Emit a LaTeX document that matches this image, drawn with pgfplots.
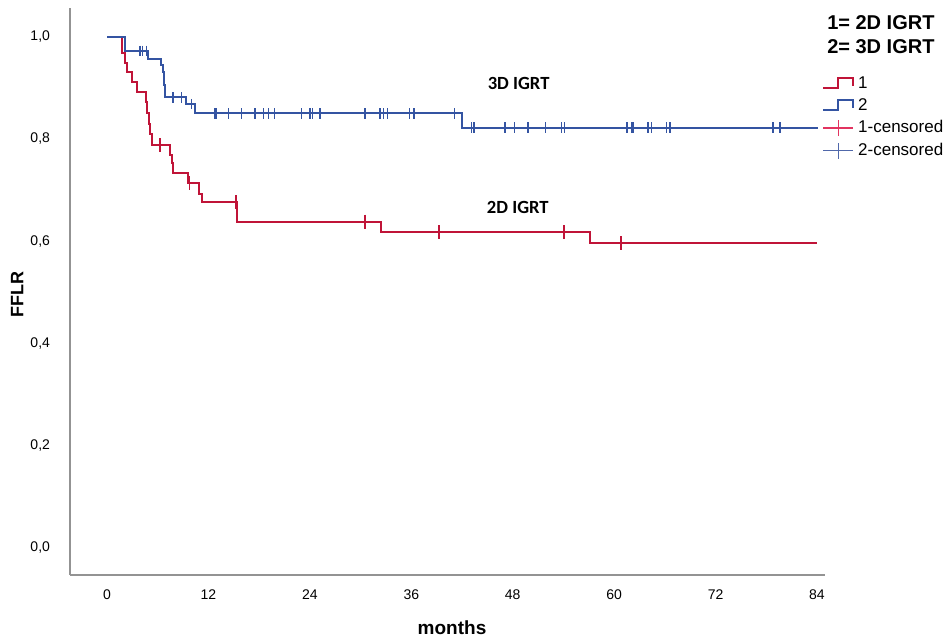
\documentclass[border=0pt]{standalone}
\usepackage{fontspec}
\setmainfont{Liberation Sans}
\newfontfamily\carlito{Carlito}
\usepackage{pgfplots}
\pgfplotsset{compat=1.18}
\definecolor{kmred}{RGB}{192,20,56}
\definecolor{kmblue}{RGB}{52,84,162}
\definecolor{legred}{RGB}{226,52,96}
\definecolor{legblue}{RGB}{80,104,170}
\begin{document}
\begin{tikzpicture}
\useasboundingbox (0,0) rectangle (472.5pt,320pt);
\begin{axis}[
  at={(35pt,32.5pt)}, anchor=south west,
  scale only axis, width=377.5pt, height=283.5pt,
  xmin=-4.38, xmax=84.95, ymin=-0.053, ymax=1.056,
  axis lines=left, axis line style={-, draw=gray!85, line width=0.7pt},
  major tick length=0pt,
  xtick={0,12,24,36,48,60,72,84},
  xticklabels={0,12,24,36,48,60,72,84},
  ytick={0,0.2,0.4,0.6,0.8,1.0},
  yticklabels={{0,0},{0,2},{0,4},{0,6},{0,8},{1,0}},
  /pgf/number format/assume math mode=true,
  ticklabel style={font=\fontsize{7}{8}\selectfont},
  yticklabel style={xshift=-6.5pt},
  xticklabel style={yshift=-3.7pt},
  xlabel={\textbf{months}},
  ylabel={\textbf{FFLR}},
  xlabel style={at={(axis description cs:0.506,-0.0935)}, anchor=center, font=\fontsize{9.5}{11}\selectfont},
  ylabel style={at={(axis description cs:-0.07,0.494)}, anchor=center, font=\fontsize{9}{11}\selectfont},
  clip=false,
  legend style={at={(rel axis cs:0.996,0.887)}, anchor=north west, draw=none, fill=none,
    font=\fontsize{8.5}{10}\selectfont, row sep=-0.4pt, inner sep=0pt,
    legend cell align=left},
]
% legend images
\addlegendimage{legend image code/.code={
  \draw[kmred, line width=0.9pt] (0pt,-2.2pt) -- (7.5pt,-2.2pt) -- (7.5pt,2.8pt) -- (15pt,2.8pt) -- (15pt,-1pt);}}
\addlegendentry{1}
\addlegendimage{legend image code/.code={
  \draw[kmblue, line width=0.9pt] (0pt,-2.2pt) -- (7.5pt,-2.2pt) -- (7.5pt,2.8pt) -- (15pt,2.8pt) -- (15pt,-1pt);}}
\addlegendentry{2}
\addlegendimage{legend image code/.code={
  \draw[legred, line width=0.8pt] (0pt,0pt) -- (15pt,0pt); \draw[legred, line width=0.8pt] (7.5pt,-4pt) -- (7.5pt,4pt);}}
\addlegendentry{1-censored}
\addlegendimage{legend image code/.code={
  \draw[legblue, line width=0.8pt] (0pt,0pt) -- (15pt,0pt); \draw[legblue, line width=0.8pt] (7.5pt,-4pt) -- (7.5pt,4pt);}}
\addlegendentry{2-censored}

% 2D IGRT (red)
\addplot[const plot, kmred, line width=1pt, forget plot] coordinates {
(0,1) (1.74,0.967) (2.13,0.948) (2.33,0.931) (3.0,0.912) (3.6,0.892) (4.57,0.873)
(4.77,0.85) (4.93,0.83) (5.09,0.81) (5.28,0.788) (7.45,0.768) (7.65,0.752) (7.85,0.733)
(9.62,0.713) (10.9,0.693) (11.2,0.676) (15.34,0.638) (32.4,0.617) (57.1,0.596) (84,0.596)};
% 3D IGRT (blue)
\addplot[const plot, kmblue, line width=1pt, forget plot] coordinates {
(0,1) (2.1,0.972) (4.9,0.957) (6.4,0.944) (6.6,0.931) (6.7,0.905) (6.9,0.881)
(9.4,0.868) (10.4,0.850) (42.0,0.822) (84.1,0.822)};
% censored red
\addplot[only marks, mark=|, mark size=3.5pt, mark options={kmred, line width=0.8pt}, forget plot] coordinates {
(6.27,0.788) (9.74,0.713) (15.26,0.676) (30.5,0.638) (39.3,0.617) (54.1,0.617) (60.8,0.596)};
% censored blue
\addplot[only marks, mark=|, mark size=2.6pt, mark options={kmblue, line width=0.7pt}, forget plot] coordinates {
(3.9,0.972) (4.2,0.972) (4.7,0.972) (7.8,0.881) (8.8,0.881) (10.0,0.868)
(12.7,0.850) (12.9,0.850) (14.4,0.850) (15.9,0.850) (17.5,0.850) (18.5,0.850) (19.1,0.850)
(19.8,0.850) (23.0,0.850) (24.0,0.850) (24.3,0.850) (25.2,0.850) (30.5,0.850) (32.3,0.850)
(32.7,0.850) (33.2,0.850) (35.8,0.850) (36.3,0.850) (41.1,0.850)
(43.1,0.822) (43.4,0.822) (47.1,0.822) (48.2,0.822) (49.8,0.822) (51.9,0.822) (53.8,0.822)
(54.1,0.822) (61.5,0.822) (62.1,0.822) (62.3,0.822) (64.0,0.822) (64.4,0.822) (66.2,0.822)
(66.6,0.822) (78.8,0.822) (79.6,0.822)};

\node[font=\carlito\bfseries\fontsize{9.3}{11}\selectfont] at (axis cs:48.7,0.909) {3D IGRT};
\node[font=\carlito\bfseries\fontsize{9.3}{11}\selectfont] at (axis cs:48.6,0.665) {2D IGRT};
\node[font=\bfseries\fontsize{10}{12}\selectfont] at (rel axis cs:1.074,0.975) {1= 2D IGRT};
\node[font=\bfseries\fontsize{10}{12}\selectfont] at (rel axis cs:1.074,0.931) {2= 3D IGRT};
\end{axis}
\end{tikzpicture}
\end{document}
